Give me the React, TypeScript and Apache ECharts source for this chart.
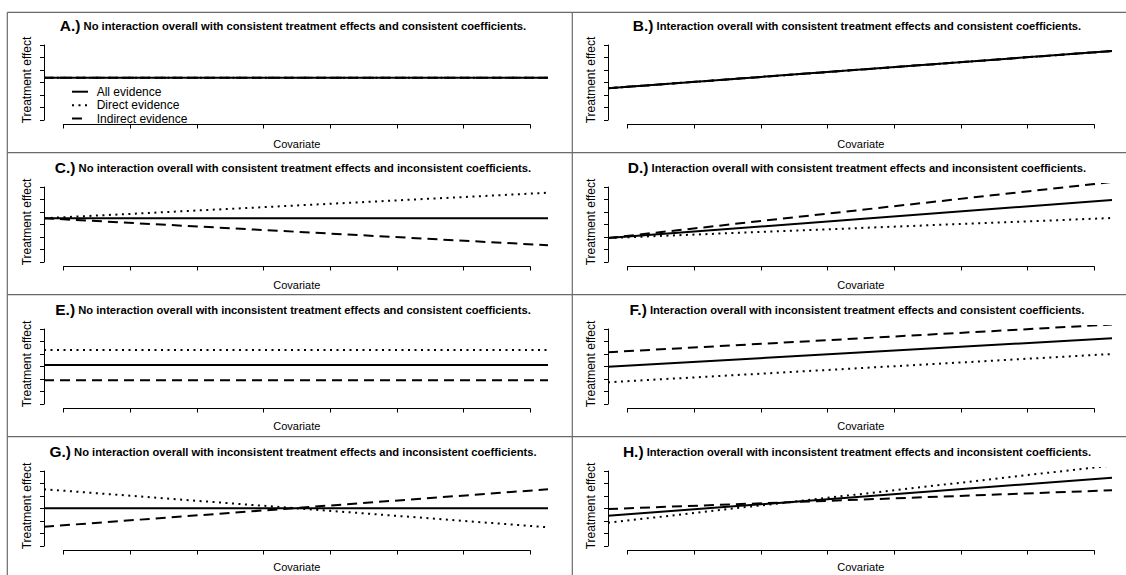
import React, { useEffect, useRef } from "react";
import * as echarts from "echarts";

const FONT = "'Liberation Sans', Arial, Helvetica, sans-serif";

const panelLetters = ["A", "B", "C", "D", "E", "F", "G", "H"];
const panelTitles = [
  "No interaction overall with consistent treatment effects and consistent coefficients.",
  "Interaction overall with consistent treatment effects and consistent coefficients.",
  "No interaction overall with consistent treatment effects and inconsistent coefficients.",
  "Interaction overall with consistent treatment effects and inconsistent coefficients.",
  "No interaction overall with inconsistent treatment effects and consistent coefficients.",
  "Interaction overall with inconsistent treatment effects and consistent coefficients.",
  "No interaction overall with inconsistent treatment effects and inconsistent coefficients.",
  "Interaction overall with inconsistent treatment effects and inconsistent coefficients.",
];

// covariate values at the left and right edge of each plotting region
const covariateRange = [-0.28, 7.28];
const treatmentRange = [-0.24, 6.24];
const xTicks = [0, 1, 2, 3, 4, 5, 6, 7];
const yTicks = [0, 1, 2, 3, 4, 5, 6];

const seriesNames = ["All evidence", "Direct evidence", "Indirect evidence"];

// treatment effect at [left edge, right edge], one pair per panel A..H
const allEvidence = [
  [3.38, 3.38], [2.54, 5.52], [3.5, 3.5], [1.92, 4.96],
  [3.12, 3.12], [2.98, 5.26], [3.02, 3.02], [2.42, 5.46],
];
const directEvidence = [
  [3.38, 3.38], [2.54, 5.52], [3.5, 5.54], [1.92, 3.52],
  [4.32, 4.32], [1.74, 4.0], [4.54, 1.5], [1.86, 6.44],
];
const indirectEvidence = [
  [3.38, 3.38], [2.54, 5.52], [3.5, 1.34], [1.92, 6.4],
  [1.9, 1.9], [4.14, 6.36], [1.54, 4.54], [2.96, 4.46],
];

const lineStyles: Record<string, any> = {
  "All evidence": { type: "solid", width: 2 },
  "Direct evidence": { type: [2, 4.5], width: 2 },
  "Indirect evidence": { type: [10, 6], width: 2 },
};

const COL_DX = [0, 564];
const ROW_DY = 142;
const BORDER = "#6a6a6a";

function buildOption() {
  const grid: any[] = [];
  const xAxis: any[] = [];
  const yAxis: any[] = [];
  const series: any[] = [];
  const graphic: any[] = [];

  // frame lines
  const hLines = [12.3, 152.7, 152.7 + ROW_DY, 152.7 + 2 * ROW_DY];
  hLines.forEach((y) =>
    graphic.push({
      type: "line",
      shape: { x1: 7.3, y1: y, x2: 1126, y2: y },
      style: { stroke: BORDER, lineWidth: 1.2 },
      silent: true,
    })
  );
  [7.3, 572.3].forEach((x) =>
    graphic.push({
      type: "line",
      shape: { x1: x, y1: 12.3, x2: x, y2: 575 },
      style: { stroke: BORDER, lineWidth: 1.2 },
      silent: true,
    })
  );

  // legend (panel A)
  const legendRows = [91.7, 105.3, 118.5];
  seriesNames.forEach((name, k) => {
    const st = lineStyles[name];
    graphic.push({
      type: "line",
      silent: true,
      shape: { x1: 72, y1: legendRows[k], x2: 88, y2: legendRows[k] },
      style: {
        stroke: "#000",
        lineWidth: st.width,
        lineDash: Array.isArray(st.type) ? st.type : null,
      },
    });
    graphic.push({
      type: "text",
      silent: true,
      x: 96.7,
      y: legendRows[k],
      style: {
        text: name,
        align: "left",
        verticalAlign: "middle",
        fontSize: 12,
        fontFamily: FONT,
        fill: "#000",
      },
    });
  });

  panelLetters.forEach((letter, i) => {
    const col = i % 2;
    const row = Math.floor(i / 2);
    const dx = COL_DX[col];
    const dy = row * ROW_DY;
    const dataGrid = 2 * i;
    const axisGrid = 2 * i + 1;

    grid.push({ left: 44 + dx, top: 42 + dy, width: 504, height: 81 });
    grid.push({ left: 63.5 + dx, top: 45 + dy, width: 466.7, height: 75 });

    xAxis.push({
      gridIndex: dataGrid,
      type: "value",
      min: covariateRange[0],
      max: covariateRange[1],
      show: false,
    });
    xAxis.push({
      gridIndex: axisGrid,
      type: "value",
      min: xTicks[0],
      max: xTicks[xTicks.length - 1],
      interval: 1,
      position: "bottom",
      offset: 4.5,
      axisLine: { show: true, onZero: false, lineStyle: { color: "#000", width: 1 } },
      axisTick: { show: true, length: 4, lineStyle: { color: "#000", width: 1 } },
      axisLabel: { show: false },
      splitLine: { show: false },
    });
    yAxis.push({
      gridIndex: dataGrid,
      type: "value",
      min: treatmentRange[0],
      max: treatmentRange[1],
      show: false,
    });
    yAxis.push({
      gridIndex: axisGrid,
      type: "value",
      min: yTicks[0],
      max: yTicks[yTicks.length - 1],
      interval: 1,
      position: "left",
      offset: 19.5,
      axisLine: { show: true, onZero: false, lineStyle: { color: "#000", width: 1 } },
      axisTick: { show: true, length: 4, lineStyle: { color: "#000", width: 1 } },
      axisLabel: { show: false },
      splitLine: { show: false },
    });

    const lines: [string, number[]][] = [
      ["Indirect evidence", indirectEvidence[i]],
      ["Direct evidence", directEvidence[i]],
      ["All evidence", allEvidence[i]],
    ];
    lines.forEach(([name, vals], k) => {
      series.push({
        type: "line",
        name,
        xAxisIndex: dataGrid,
        yAxisIndex: dataGrid,
        data: [
          [covariateRange[0], vals[0]],
          [covariateRange[1], vals[1]],
        ],
        symbol: "none",
        silent: true,
        z: 2 + k,
        color: "#000",
        itemStyle: { color: "#000" },
        lineStyle: { color: "#000", cap: "butt", ...lineStyles[name] },
      });
    });

    // title
    graphic.push({
      type: "text",
      x: 293 + dx,
      y: 25.5 + dy,
      silent: true,
      style: {
        text: `{a|${letter}.)}{b| ${panelTitles[i]}}`,
        align: "center",
        verticalAlign: "middle",
        fill: "#000",
        rich: {
          a: { fontSize: 15.5, fontWeight: "bold", fontFamily: FONT, fill: "#000" },
          b: { fontSize: 11.2, fontWeight: "bold", fontFamily: FONT, fill: "#000" },
        },
      },
    });
    // axis names
    graphic.push({
      type: "text",
      x: 296.8 + dx,
      y: 143.5 + dy - row * 0.7,
      silent: true,
      style: {
        text: "Covariate",
        align: "center",
        verticalAlign: "middle",
        fontSize: 11,
        fontFamily: FONT,
        fill: "#000",
      },
    });
    graphic.push({
      type: "text",
      x: 27 + dx,
      y: 80 + dy,
      rotation: Math.PI / 2,
      silent: true,
      style: {
        text: "Treatment effect",
        align: "center",
        verticalAlign: "middle",
        fontSize: 12,
        fontFamily: FONT,
        fill: "#000",
      },
    });
  });

  return {
    animation: false,
    backgroundColor: "#fff",
    grid,
    xAxis,
    yAxis,
    series,
    graphic,
  };
}

export default function App() {
  const ref = useRef<HTMLDivElement>(null);
  useEffect(() => {
    if (!ref.current) return;
    const chart = echarts.init(ref.current, undefined, { renderer: "svg" });
    chart.setOption(buildOption() as any);
    return () => chart.dispose();
  }, []);
  return (
    <div
      ref={ref}
      style={{ position: "fixed", left: 0, top: 0, width: 1126, height: 575, background: "#fff" }}
    />
  );
}
